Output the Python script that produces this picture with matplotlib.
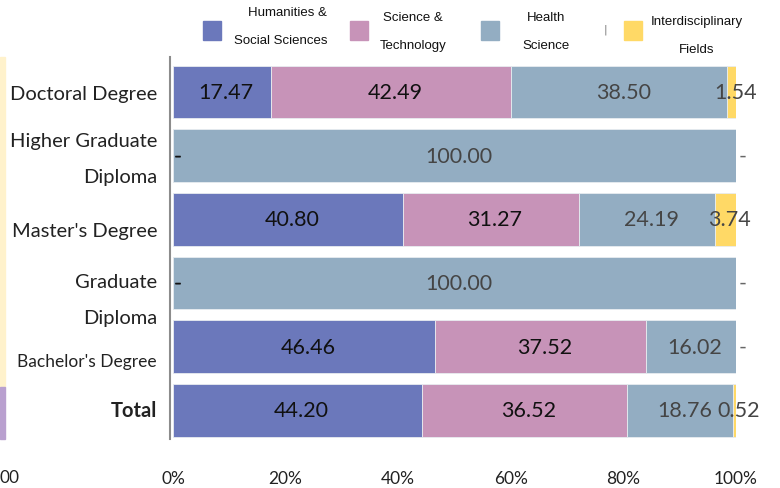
import numpy as np
import matplotlib
matplotlib.use("Agg")
import matplotlib.pyplot as plt
from matplotlib.patches import Rectangle

# data
degrees = ["Doctoral Degree", "Higher Graduate\nDiploma", "Master's Degree",
           "Graduate\nDiploma", "Bachelor's Degree", "Total"]
fields = ["Humanities &\nSocial Sciences", "Science &\nTechnology", "Health\nScience",
          "Interdisciplinary\nFields"]
humanities = [17.47, 0, 40.80, 0, 46.46, 44.20]
science = [42.49, 0, 31.27, 0, 37.52, 36.52]
health = [38.50, 100.00, 24.19, 100.00, 16.02, 18.76]
interdisc = [1.54, 0, 3.74, 0, 0, 0.52]
xticks = [0, 20, 40, 60, 80, 100]

colors = ["#6b78bb", "#c793b8", "#93adc2", "#ffd966"]
label_colors = ["#111111", "#111111", "#454545", "#454545"]

num_font = "Lato"
cat_font = "Lato"

fig = plt.figure(figsize=(7.8, 4.89), dpi=100)
W, H = 780, 489
ax = fig.add_axes([173 / W, (H - 440) / H, (736 - 173) / W, (440 - 58) / H])

series = [humanities, science, health, interdisc]
y = np.arange(len(degrees))
left = np.zeros(len(degrees))
for k, vals in enumerate(series):
    vals = np.array(vals)
    ax.barh(y, vals, left=left, height=0.83, color=colors[k],
            edgecolor="#e8ecf0", linewidth=0.6)
    for i, v in enumerate(vals):
        cx = left[i] + v / 2
        txt = f"{v:.2f}" if v > 0 else "-"
        col = label_colors[k]
        dx = 3
        if v == 0 and k == 3:
            col = "#666666"
            dx = 5
        ax.annotate(txt, (cx, y[i]), xytext=(dx, 0), textcoords="offset points",
                    ha="center", va="center", fontsize=15.5, color=col,
                    family=num_font)
    left += vals

ax.set_xlim(0, 100)
ax.set_ylim(5.45, -0.55)
ax.set_xticks(xticks)
ax.set_xticklabels([f"{t}%" for t in xticks], family=num_font, fontsize=12.5,
                   color="#222222")
ax.tick_params(axis="x", length=0, pad=22)
ax.set_yticks([])
for s in ["top", "right", "bottom"]:
    ax.spines[s].set_visible(False)
ax.spines["left"].set_position(("outward", 2))
ax.spines["left"].set_color("#8c8c8c")
ax.spines["left"].set_linewidth(1.5)

# category labels
label_shift = [0.03, 0.05, 0.18, 0.26, 0.23, 0.0]
label_size = [14.5, 14.5, 14.5, 14.5, 12.5, 14.5]
for i, name in enumerate(degrees):
    ax.text(-16 / 563 * 100, y[i] + label_shift[i], name, ha="right", va="center",
            fontsize=label_size[i], family=cat_font, color="#222222",
            linespacing=2.35, fontweight="bold" if name == "Total" else "normal")

# legend
def fx(px):
    return px / W

def fy(py):
    return 1 - py / H

squares = [203, 350, 481, 624]
text_x = [327, 413, 546, 697]
text_y = [27, 32, 32, 36]
for k in range(4):
    fig.patches.append(Rectangle((fx(squares[k]), fy(41)), 18 / W, 19 / H,
                                 transform=fig.transFigure, color=colors[k]))
    ha = "right" if k == 0 else "center"
    fig.text(fx(text_x[k]), fy(text_y[k]), fields[k], ha=ha, va="center",
             multialignment=ha, family="Liberation Sans", fontsize=9.5,
             linespacing=2.7, color="#111111")
fig.text(fx(605), fy(30), "|", ha="center", va="center", fontsize=8, color="#777777")

# cropped remains at the left edge
fig.patches.append(Rectangle((0, fy(388)), 5 / W, 330 / H, transform=fig.transFigure,
                             color="#fff2cc"))
fig.patches.append(Rectangle((0, fy(440)), 5 / W, 52 / H, transform=fig.transFigure,
                             color="#b9a0cf"))
fig.text(0, fy(478), "00", ha="left", va="center", family=num_font, fontsize=12.5,
         color="#222222")

fig.savefig("out.png", dpi=100)
